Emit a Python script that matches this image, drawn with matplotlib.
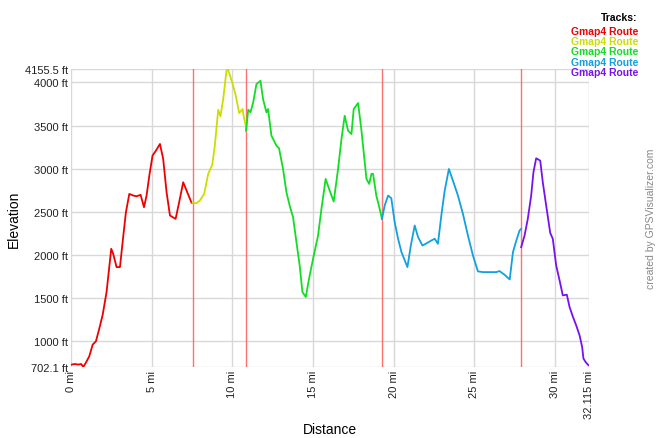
import matplotlib.pyplot as plt

plt.rcParams['font.family'] = ['Liberation Sans', 'DejaVu Sans']

# distance (mi) and elevation (ft) for each track segment
red_mi = [0.0, 0.25, 0.46, 0.63, 0.77, 0.93, 1.14, 1.35, 1.55, 1.76, 1.97, 2.21, 2.50, 2.62, 2.83,
          3.04, 3.25, 3.41, 3.62, 3.87, 4.07, 4.32, 4.53, 4.69, 4.86, 5.06, 5.27, 5.52, 5.72, 5.93,
          6.14, 6.49, 6.71, 6.96, 7.17, 7.48, 7.54]
red_ft = [729, 737, 730, 737, 704, 753, 827, 962, 1000, 1147, 1308, 1571, 2072, 2014, 1860,
          1860, 2226, 2496, 2708, 2689, 2681, 2697, 2554, 2689, 2920, 3152, 3210, 3287, 3113, 2727,
          2458, 2419, 2612, 2843, 2747, 2604, 2604]

yellow_mi = [7.54, 7.78, 7.99, 8.26, 8.51, 8.76, 8.92, 9.13, 9.27, 9.44, 9.64, 9.73, 10.0, 10.22,
             10.43, 10.64, 10.74, 10.84, 10.86]
yellow_ft = [2604, 2600, 2631, 2708, 2940, 3044, 3267, 3684, 3607, 3807, 4135, 4155, 4000, 3846,
             3645, 3692, 3576, 3499, 3441]

green_mi = [10.86, 10.99, 11.13, 11.30, 11.50, 11.75, 11.91, 12.12, 12.22, 12.43, 12.74, 12.90,
            13.15, 13.36, 13.56, 13.77, 13.98, 14.18, 14.35, 14.56, 14.76, 15.01, 15.32, 15.53,
            15.79, 16.04, 16.29, 16.56, 16.77, 16.97, 17.18, 17.39, 17.53, 17.80, 18.00, 18.32,
            18.49, 18.63, 18.73, 18.93, 19.14, 19.28]
green_ft = [3441, 3684, 3653, 3769, 3981, 4019, 3807, 3653, 3692, 3383, 3267, 3237,
            2997, 2727, 2573, 2438, 2149, 1879, 1571, 1513, 1725, 1956, 2226, 2535,
            2882, 2747, 2620, 2997, 3344, 3614, 3441, 3402, 3692, 3761, 3460, 2882,
            2824, 2940, 2940, 2689, 2535, 2419]

blue_mi = [19.28, 19.45, 19.66, 19.86, 20.07, 20.28, 20.49, 20.86, 21.07, 21.31, 21.52, 21.79,
           21.99, 22.34, 22.55, 22.75, 22.96, 23.17, 23.43, 23.68, 23.99, 24.30, 24.61, 24.92,
           25.23, 25.54, 25.96, 26.37, 26.57, 26.88, 27.20, 27.40, 27.61, 27.81, 27.91]
blue_ft = [2419, 2573, 2689, 2658, 2380, 2188, 2033, 1860, 2110, 2342, 2207, 2110,
           2130, 2168, 2188, 2130, 2458, 2747, 2997, 2862, 2689, 2477, 2226, 1995,
           1810, 1802, 1802, 1802, 1814, 1771, 1717, 2033, 2168, 2284, 2303]

purple_mi = [27.91, 28.12, 28.32, 28.53, 28.67, 28.84, 29.09, 29.25, 29.46, 29.71, 29.87, 30.08,
             30.29, 30.49, 30.74, 30.91, 31.12, 31.32, 31.53, 31.69, 31.77, 31.90, 32.04, 32.10]
purple_ft = [2091, 2226, 2419, 2689, 2959, 3121, 3094, 2843, 2573, 2257, 2188, 1879,
             1706, 1532, 1540, 1397, 1282, 1185, 1069, 934, 800, 761, 730, 722]

track_breaks = [7.54, 10.86, 19.28, 27.91]
x_ticks = [0, 5, 10, 15, 20, 25, 30, 32.115]
x_labels = ['0 mi', '5 mi', '10 mi', '15 mi', '20 mi', '25 mi', '30 mi', '32.115 mi']
y_ticks = [702.1, 1000, 1500, 2000, 2500, 3000, 3500, 4000, 4155.5]
y_labels = ['702.1 ft', '1000 ft', '1500 ft', '2000 ft', '2500 ft', '3000 ft', '3500 ft',
            '4000 ft', '4155.5 ft']

colors = ['#ee0000', '#ccdd00', '#11dd22', '#11a0e0', '#7711ee']
tracks = [(red_mi, red_ft), (yellow_mi, yellow_ft), (green_mi, green_ft),
          (blue_mi, blue_ft), (purple_mi, purple_ft)]

fig = plt.figure(figsize=(6.59, 4.39), dpi=100)
ax = fig.add_axes([0.1076, 0.1617, 0.7862, 0.6788])

for xt in x_ticks:
    ax.axvline(xt, color='#d8d8d8', lw=1, zorder=1)
for yt in y_ticks:
    ax.axhline(yt, color='#d8d8d8', lw=1, zorder=1)
for b in track_breaks:
    ax.axvline(b, color='#ff7070', lw=1, zorder=2)

for (xs, ys), c in zip(tracks, colors):
    ax.plot(xs, ys, color=c, lw=1.3, zorder=3)

ax.set_xlim(0, 32.115)
ax.set_ylim(702.1, 4155.5)
ax.set_xticks(x_ticks)
ax.set_xticklabels(x_labels, rotation=90, fontsize=8, color='#222222')
ax.set_yticks(y_ticks)
ax.set_yticklabels(y_labels, fontsize=8, color='#222222')
ax.tick_params(length=0, pad=2)
for s in ax.spines.values():
    s.set_visible(False)

fig.text(0.5, 0.021, 'Distance', fontsize=10, ha='center', va='center')
fig.text(0.021, 0.50, 'Elevation', fontsize=10, rotation=90, ha='center', va='center')

fig.text(0.967, 0.958, 'Tracks:', fontsize=7.5, fontweight='bold', ha='right', va='center')
for i, c in enumerate(colors):
    fig.text(0.969, 0.928 - i * 0.0235, 'Gmap4 Route', fontsize=7.5, fontweight='bold',
             color=c, ha='right', va='center')

fig.text(0.988, 0.501, 'created by GPSVisualizer.com', fontsize=7.5, color='#888888',
         rotation=90, ha='center', va='center')

fig.savefig('out.png', dpi=100)
